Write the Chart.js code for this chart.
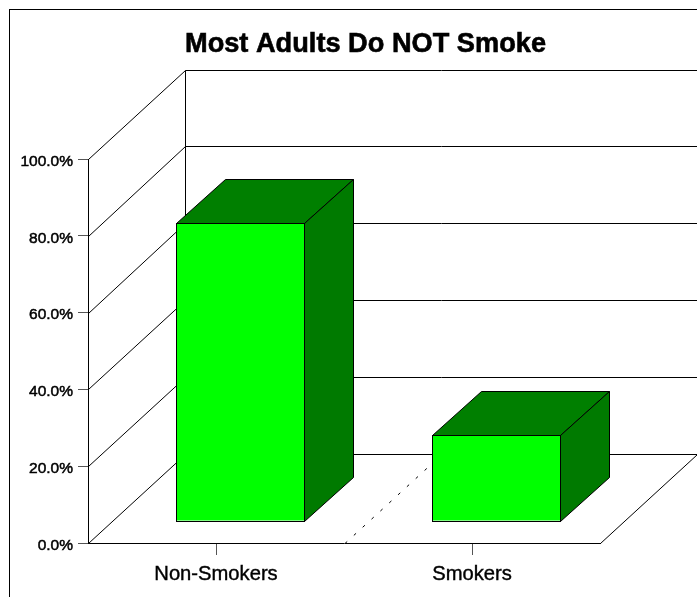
<!DOCTYPE html>
<html>
<head>
<meta charset="utf-8">
<title>Most Adults Do NOT Smoke</title>
<script src="https://cdn.jsdelivr.net/npm/chart.js@4/dist/chart.umd.min.js"></script>
<style>
  html, body { margin: 0; padding: 0; background: #fff; overflow: hidden; }
  canvas { display: block; }
</style>
</head>
<body>
<canvas id="smokeChart" width="697" height="597"></canvas>
<script>
const categories = ['Non-Smokers', 'Smokers'];
const shares = [77.6, 22.4];
const titleText = 'Most Adults Do NOT Smoke';

// depth of the box behind the axes, and how far bars sit from the front edge
const wallDepth = { x: 97, y: -89.4 };
const barInset = { x: 24, y: -22 };
const barDepth = { x: 49, y: -44 };

const crisp = v => Math.round(v) + 0.5;

function line(ctx, x1, y1, x2, y2) {
  ctx.beginPath();
  ctx.moveTo(x1, y1);
  ctx.lineTo(x2, y2);
  ctx.stroke();
}

function face(ctx, points, fill) {
  ctx.beginPath();
  points.forEach((p, i) => i ? ctx.lineTo(p[0], p[1]) : ctx.moveTo(p[0], p[1]));
  ctx.closePath();
  ctx.fillStyle = fill;
  ctx.fill();
  ctx.stroke();
}

// frame, heading, back wall, side wall and floor
const boxPlugin = {
  id: 'box',
  beforeDraw(chart) {
    const ctx = chart.ctx;
    ctx.save();
    ctx.fillStyle = '#fff';
    ctx.fillRect(0, 0, chart.width, chart.height);
    ctx.strokeStyle = '#000';
    ctx.lineWidth = 1;
    ctx.strokeRect(9.5, 9.5, chart.width + 20, chart.height + 20);

    ctx.font = 'bold 27.2px "Liberation Sans", Arial, sans-serif';
    ctx.textAlign = 'center';
    ctx.textBaseline = 'alphabetic';
    ctx.fillStyle = '#000';
    ctx.lineWidth = 0.6;
    ctx.strokeText(titleText, 365.5, 52);
    ctx.fillText(titleText, 365.5, 52);
    ctx.restore();
  },
  beforeDatasetsDraw(chart) {
    const { ctx, scales } = chart;
    const { x, y } = scales;
    const left = crisp(x.left), right = crisp(x.right), bottom = crisp(y.bottom);
    const backLeft = left + wallDepth.x, backRight = right + wallDepth.x;
    const backY = v => crisp(y.getPixelForValue(v) + wallDepth.y);
    ctx.save();
    ctx.strokeStyle = '#000';
    ctx.lineWidth = 1;

    y.ticks.forEach(t => {
      const py = crisp(y.getPixelForValue(t.value));
      line(ctx, left, py, backLeft, backY(t.value));
      line(ctx, backLeft, backY(t.value), backRight, backY(t.value));
    });
    line(ctx, backLeft, backY(y.max), backLeft, backY(y.min));
    line(ctx, right, bottom, backRight, backY(y.min));

    // dotted divider across the floor between the two categories
    const mid = (x.getPixelForValue(0) + x.getPixelForValue(1)) / 2;
    ctx.setLineDash([3, 9]);
    line(ctx, mid + 1, bottom, mid + 1 + wallDepth.x, backY(y.min));
    ctx.restore();
  },
  // top and side faces go under the bar, the outline goes over it
  beforeDatasetDraw(chart, args) {
    const ctx = chart.ctx;
    ctx.save();
    ctx.translate(barInset.x, barInset.y);
    ctx.strokeStyle = '#000';
    ctx.lineWidth = 1;
    chart.getDatasetMeta(args.index).data.forEach(bar => {
      const l = crisp(bar.x - bar.width / 2);
      const r = crisp(bar.x + bar.width / 2);
      const t = crisp(bar.y);
      const b = crisp(bar.base);
      face(ctx, [[l, t], [l + barDepth.x, t + barDepth.y], [r + barDepth.x, t + barDepth.y], [r, t]], '#007f00');
      face(ctx, [[r, t], [r + barDepth.x, t + barDepth.y], [r + barDepth.x, b + barDepth.y], [r, b]], '#007a00');
    });
  },
  afterDatasetDraw(chart, args) {
    const ctx = chart.ctx;
    chart.getDatasetMeta(args.index).data.forEach(bar => {
      const l = crisp(bar.x - bar.width / 2);
      const r = crisp(bar.x + bar.width / 2);
      const t = crisp(bar.y);
      const b = crisp(bar.base);
      ctx.strokeRect(l, t, r - l, b - t);
    });
    ctx.restore();
  }
};

new Chart(document.getElementById('smokeChart').getContext('2d'), {
  type: 'bar',
  data: {
    labels: categories,
    datasets: [{
      data: shares,
      backgroundColor: '#00ff00',
      borderWidth: 0,
      barPercentage: 1,
      categoryPercentage: 0.5,
      clip: false
    }]
  },
  plugins: [boxPlugin],
  options: {
    responsive: false,
    animation: false,
    layout: { padding: { top: 159, right: 97, bottom: 0, left: 0 } },
    plugins: {
      legend: { display: false },
      tooltip: { enabled: false }
    },
    scales: {
      x: {
        afterFit: s => { s.height = 54; },
        border: { color: '#000' },
        grid: { offset: false, drawOnChartArea: false, tickLength: 12, color: '#555' },
        ticks: {
          color: '#000',
          maxRotation: 0,
          padding: 7,
          textStrokeColor: '#000',
          textStrokeWidth: 0.4,
          font: { family: '"Liberation Sans", Arial, sans-serif', size: 20.2 }
        }
      },
      y: {
        min: 0,
        max: 100,
        afterFit: s => { s.width = 88; },
        border: { color: '#000' },
        grid: { drawOnChartArea: false, tickLength: 10, color: '#555' },
        ticks: {
          stepSize: 20,
          color: '#000',
          padding: 5,
          labelOffset: 2.5,
          textStrokeColor: '#000',
          textStrokeWidth: 0.5,
          font: { family: '"Liberation Sans", Arial, sans-serif', size: 15.5 },
          callback: v => v.toFixed(1) + '%'
        }
      }
    }
  }
});
</script>
</body>
</html>
